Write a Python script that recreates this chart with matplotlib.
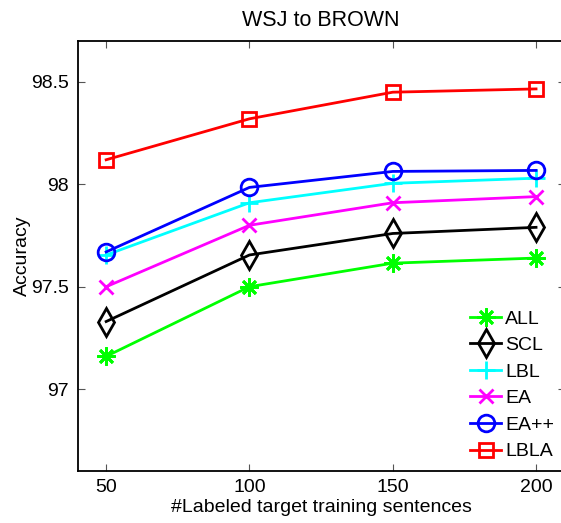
import matplotlib
matplotlib.use("Agg")
import matplotlib.pyplot as plt

plt.rcParams['font.family'] = ['Liberation Sans', 'DejaVu Sans']

# données
sizes = [50, 100, 150, 200]
acc_all = [97.16, 97.50, 97.615, 97.64]
acc_scl = [97.33, 97.655, 97.76, 97.79]
acc_lbl = [97.655, 97.91, 98.005, 98.03]
acc_ea = [97.50, 97.80, 97.91, 97.94]
acc_eapp = [97.67, 97.985, 98.063, 98.068]
acc_lbla = [98.12, 98.32, 98.45, 98.466]

series = [
    ("ALL", acc_all, (0, 1, 0), (8, 2, 0), 13),
    ("SCL", acc_scl, 'black', 'd', 14),
    ("LBL", acc_lbl, 'cyan', '+', 13),
    ("EA", acc_ea, 'magenta', 'x', 10),
    ("EA++", acc_eapp, 'blue', 'o', 12),
    ("LBLA", acc_lbla, 'red', 's', 10),
]

fig = plt.figure(figsize=(5.61, 5.23), dpi=100)
ax = fig.add_axes([77.5/561, 52/523, (564.7-77.5)/561, (471-41)/523])

for name, vals, col, mk, ms in series:
    ax.plot(sizes, vals, color=col, marker=mk, markersize=ms, linewidth=2,
            markerfacecolor='none', markeredgecolor=col, markeredgewidth=2, label=name)

ax.set_xlim(40, 210)
ax.set_ylim(96.6, 98.7)
ax.set_xticks(sizes)
ax.set_yticks([97, 97.5, 98, 98.5])
ax.set_yticklabels(["97", "97.5", "98", "98.5"])
ax.tick_params(direction='in', length=5, width=0.8, color='#555555',
               top=True, right=True, labelsize=14, pad=6)
for s in ax.spines.values():
    s.set_linewidth(1.3)

ax.set_xlabel("#Labeled target training sentences", fontsize=14, labelpad=2)
ax.set_ylabel("Accuracy", fontsize=14, labelpad=0)
ax.set_title("WSJ to BROWN", fontsize=15.5, pad=11)

ax.legend(loc='upper left', bbox_to_anchor=(470/561, 1 - 310/523),
          bbox_transform=fig.transFigure, frameon=False, fontsize=14,
          borderpad=0, borderaxespad=0, handlelength=1.6, handletextpad=0.2,
          labelspacing=0.46)

fig.savefig("out.png", dpi=100)
